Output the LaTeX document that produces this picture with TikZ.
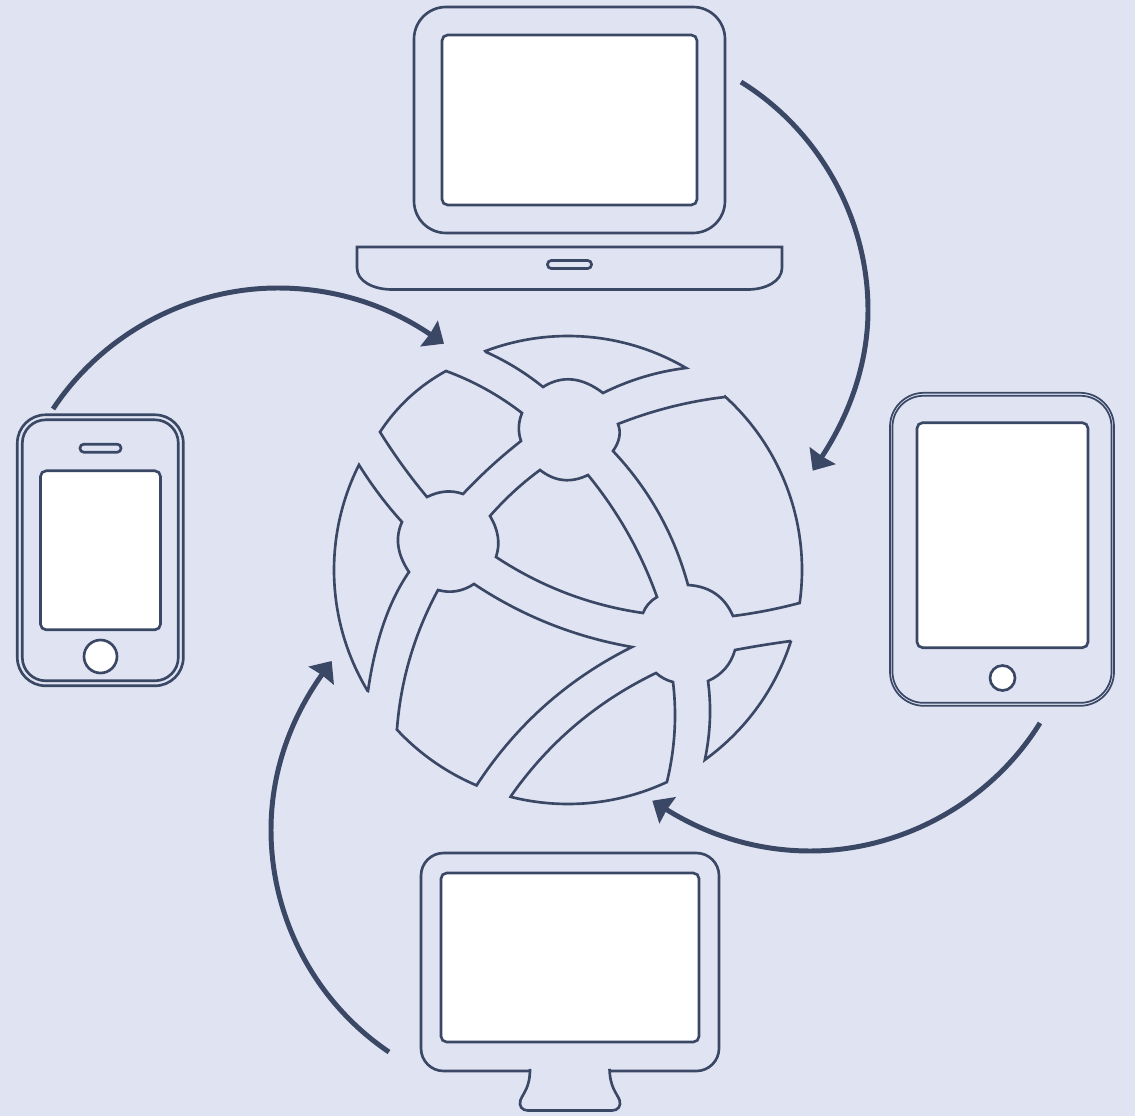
\documentclass[tikz,border=0pt]{standalone}
\usepackage{xcolor}
\usetikzlibrary{arrows.meta,calc}
\definecolor{paleblue}{RGB}{224,228,242}
\definecolor{slateink}{RGB}{58,71,101}
\tikzset{
  sizedbox/.style 2 args={minimum width=#1*0.0265cm,minimum height=#2*0.0265cm},
  devicepart/.style={rectangle,draw=slateink,line width=2pt,inner sep=0pt,outer sep=0pt},
  screenpart/.style={devicepart,fill=white,rounded corners=0.15cm},
  buttonpart/.style={circle,draw=slateink,fill=white,line width=2pt,inner sep=0pt,outer sep=0pt},
  thinpart/.style={devicepart,line width=1.3pt},
  outlinepart/.style={draw=slateink,line width=2pt},
  bow/.style={to path={.. controls ($(#1)+0.1667*(\tikztostart)-0.1667*(\tikztotarget)$)
    and ($(#1)-0.1667*(\tikztostart)+0.1667*(\tikztotarget)$) .. (\tikztotarget)}},
  flowarrow/.style={draw=slateink,line width=3.75pt,-{Stealth[length=13.5pt,width=23pt,inset=0.6pt]}}
}

\begin{document}
\begin{tikzpicture}[x=0.0265cm,y=-0.0265cm]
  \path[fill=paleblue,use as bounding box] (0,0) rectangle (1135,1116);

  % laptop
  \node[devicepart,sizedbox={311}{226},rounded corners=0.85cm] (laptoplid) at (569.5,120) {};
  \node[screenpart,sizedbox={255}{170}] (laptopscreen) at (569.5,120) {};
  \draw[outlinepart] (357,247) -- (782,247) -- (782,268) .. controls (782,281) and (766,289.5) .. (748,289.5)
    -- (392,289.5) .. controls (373,289.5) and (357,281) .. (357,268) -- cycle;
  \node[devicepart,sizedbox={44}{8},rounded corners=0.1cm] (laptopslot) at (569.5,264.5) {};

  % phone
  \node[devicepart,sizedbox={166}{271},rounded corners=0.75cm] (phoneouter) at (100.3,550.3) {};
  \node[devicepart,sizedbox={156}{261},rounded corners=0.62cm] (phoneinner) at (100.3,550.3) {};
  \node[screenpart,sizedbox={120}{159}] (phonescreen) at (100.5,550.3) {};
  \node[devicepart,sizedbox={41}{8},rounded corners=0.1cm] (phonespeaker) at (100.5,448.2) {};
  \node[buttonpart,minimum size=33*0.0265cm] (phonebutton) at (100.5,656.5) {};

  % tablet
  \node[thinpart,sizedbox={224}{313},rounded corners=0.9cm] (tabletouter) at (1002,549.3) {};
  \node[thinpart,sizedbox={219}{307},rounded corners=0.82cm] (tabletinner) at (1002,549.3) {};
  \node[screenpart,sizedbox={171}{225}] (tabletscreen) at (1002.5,535.2) {};
  \node[buttonpart,minimum size=25*0.0265cm] (tabletbutton) at (1002.5,678) {};

  % monitor
  \node[devicepart,sizedbox={298}{218},rounded corners=0.6cm] (monitorbody) at (570,962) {};
  \node[screenpart,sizedbox={258}{169}] (monitorscreen) at (570,957.5) {};
  \draw[outlinepart,fill=paleblue] (530,1068.8) .. controls (530,1087) and (524,1092) .. (520.5,1100)
    .. controls (518.5,1106) and (522,1110.5) .. (528,1110.5) -- (612,1110.5)
    .. controls (618,1110.5) and (621.5,1106) .. (619.5,1100)
    .. controls (616,1092) and (610,1087) .. (609.5,1068.8);

  % globe pieces
  \coordinate (globe) at (568,570);
  \draw[outlinepart] (globe) ++(-110.7:234) arc[start angle=-110.7,end angle=-59.7,radius=234]
    to[bow={643,375.8}] (603,393) to[bow={572,376}] (543,387) to[bow={516,367}] (486,352) -- cycle;
  \draw[outlinepart] (446,371) to[bow={408,396}] (380,432) to[bow={402,465.6}] (427,497)
    to[bow={445.5,490.3}] (463,494) to[bow={490.7,466}] (521,441)
    to[bow={518,427}] (522,413) to[bow={486,388}] (446,371) -- cycle;
  \draw[outlinepart] (globe) ++(148.9:234) arc[start angle=148.9,end angle=206.7,radius=234]
    to[bow={379,495}] (402,522) to[bow={396,546}] (409,572) to[bow={382,621}] (368,691) -- cycle;
  \draw[outlinepart] (540,470) to[bow={513.5,491}] (490,516) to[bow={499.5,537}] (496,557)
    to[bow={565.4,596}] (643,613) to[bow={648,603.5}] (657,597)
    to[bow={629.5,532}] (588,475) to[bow={563,482.5}] (540,470) -- cycle;
  \draw[outlinepart] (globe) ++(-47.8:234) arc[start angle=-47.8,end angle=8.1,radius=234]
    to[bow={766.5,611}] (733,616) to[bow={717,591.4}] (688,585)
    to[bow={661.7,511.8}] (613,451) to[bow={620.5,437}] (618,424)
    to[bow={670.5,405.8}] (725,397) -- cycle;
  \draw[outlinepart] (globe) ++(137:234) arc[start angle=137,end angle=113,radius=234]
    to[bow={541.8,702}] (632,647) to[bow={548.4,626.5}] (474,584)
    to[bow={456.5,592.5}] (438,590) to[bow={407.6,656.8}] (397,729) -- cycle;
  \draw[outlinepart] (globe) ++(104.2:234) arc[start angle=104.2,end angle=65,radius=234]
    to[bow={676,732}] (673,682) to[bow={664,679}] (656,673)
    to[bow={572.7,722}] (511,796) -- cycle;
  \draw[outlinepart] (globe) ++(17.6:234) arc[start angle=17.6,end angle=54.2,radius=234]
    to[bow={711,720}] (708,681) to[bow={726.3,669.7}] (735,650)
    to[bow={763,645}] (791,641) -- cycle;

  % arrows
  \coordinate (laptopout) at (741,82);
  \coordinate (laptopbend) at (868,310);
  \coordinate (globeeast) at (812.7,470.7);
  \coordinate (phoneout) at (53,409);
  \coordinate (phonebend) at (278,288);
  \coordinate (globenorth) at (444,343.7);
  \coordinate (tabletout) at (1040,723);
  \coordinate (tabletbend) at (810,851);
  \coordinate (globesouth) at (652.3,800.7);
  \coordinate (monitorout) at (389,1052);
  \coordinate (monitorbend) at (271,830);
  \coordinate (globewest) at (331.7,661);
  \draw[flowarrow] (laptopout) to[out=-31.7,in=90,looseness=0.9] (laptopbend)
    to[out=-90,in=56.7,out looseness=0.78,in looseness=1.04] (globeeast);
  \draw[flowarrow] (phoneout) to[out=56.5,in=180,looseness=0.9] (phonebend)
    to[out=0,in=145.8,out looseness=0.79,in looseness=1.04] (globenorth);
  \draw[flowarrow] (tabletout) to[out=-121.8,in=0,looseness=0.9] (tabletbend)
    to[out=180,in=-32,out looseness=0.78,in looseness=1.045] (globesouth);
  \draw[flowarrow] (monitorout) to[out=146,in=-90,looseness=0.9] (monitorbend)
    to[out=90,in=234.4,out looseness=0.795,in looseness=1.037] (globewest);
\end{tikzpicture}
\end{document}
